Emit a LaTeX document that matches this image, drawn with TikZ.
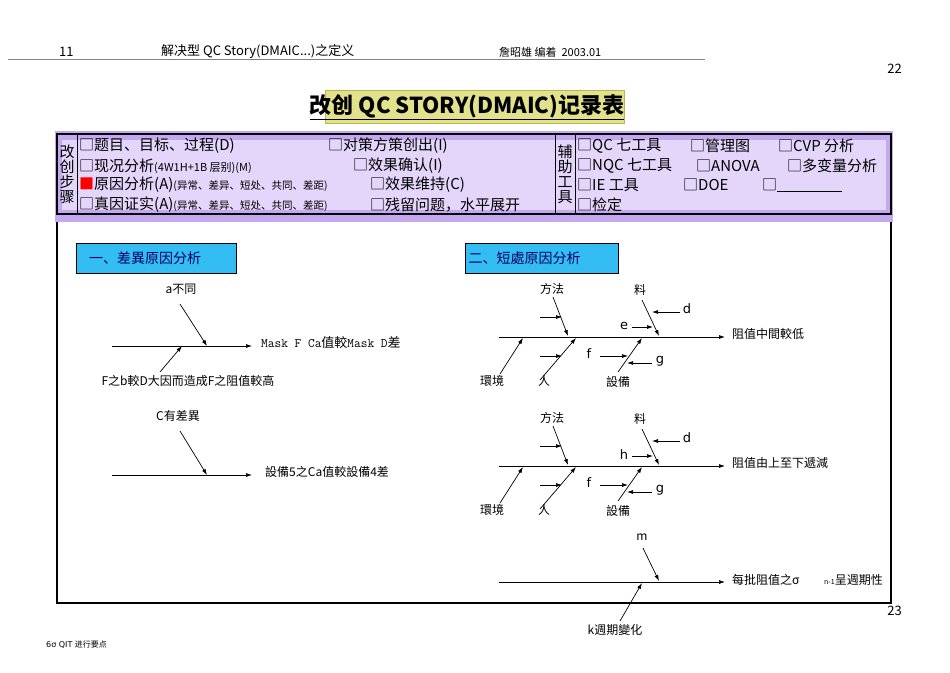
\documentclass[tikz,border=0pt]{standalone}
\usepackage{fontspec}
\setmainfont{DejaVu Sans}
\newfontfamily\cjk{Noto Sans CJK SC}
\usetikzlibrary{arrows.meta}
\definecolor{band}{RGB}{196,168,240}
\definecolor{bandin}{RGB}{228,214,250}
\definecolor{hl}{RGB}{226,226,140}
\begin{document}
\begin{tikzpicture}[x=1pt,y=-1pt,
  txt/.style={inner sep=0pt,anchor=west,font=\cjk\fontsize{15}{15}\selectfont},
  lbl/.style={inner sep=1pt,font=\cjk\fontsize{12}{12}\selectfont},
  arr/.style={-{Latex[length=6pt,width=4pt]},line width=0.7pt},
  cy/.style={draw=black,fill=cyan!80!white,minimum width=160pt,minimum height=30pt,anchor=north west,font=\cjk\fontsize{14}{14}\selectfont,text=blue!40!black,inner sep=0pt,text width=150pt,align=left}]
\useasboundingbox (0,0) rectangle (950,672);
\fill[white] (0,0) rectangle (950,672);
% header
\node[lbl,anchor=west] (h1) at (58,52) {\fontsize{13}{13}\selectfont 11};
\node[lbl,anchor=west] (h2) at (160,52) {\fontsize{13}{13}\selectfont 解决型 QC Story(DMAIC...)之定义};
\node[lbl,anchor=west] (h3) at (498,52) {\fontsize{11}{11}\selectfont 詹昭雄 编着 \ 2003.01};
\draw[gray,line width=0.8pt] (8,59) -- (705,59);
\node[lbl,anchor=east] (p22) at (903,69) {\fontsize{13}{13}\selectfont 22};
% title
\fill[hl,draw=olive!60] (325,90) rectangle (624,123);
\node[inner sep=0pt,font=\cjk\bfseries\fontsize{22}{22}\selectfont] (title) at (467,107) {\underline{改创 QC STORY(DMAIC)记录表}};
% table
\fill[band] (55,131) rectangle (893,222);
\fill[bandin] (62,140) rectangle (886,210);
\draw[line width=1.2pt] (57,134) rectangle (891,214);
\draw[line width=1pt] (77,134) -- (77,214) (555,134) -- (555,214) (575,134) -- (575,214);
\node[txt,anchor=center,align=center] (c1) at (67,174) {改\\创\\步\\骤};
\node[txt,anchor=center,align=center] (c2) at (565,174) {辅\\助\\工\\具};
\node[txt] (r1) at (79,146) {□题目、目标、过程(D)};
\node[txt] (r2) at (79,166) {□现况分析{\fontsize{11}{11}\selectfont (4W1H+1B 层别)(M)}};
\node[txt] (r3) at (79,185) {\textcolor{red}{■}原因分析(A){\fontsize{10.5}{11}\selectfont (异常、差异、短处、共同、差距)}};
\node[txt] (r4) at (79,205) {□真因证实(A){\fontsize{10.5}{11}\selectfont (异常、差异、短处、共同、差距)}};
\node[txt] (s1) at (328,146) {□对策方策创出(I)};
\node[txt] (s2) at (353,166) {□效果确认(I)};
\node[txt] (s3) at (370,185) {□效果维持(C)};
\node[txt] (s4) at (370,205) {□残留问题，水平展开};
\node[txt] (t1) at (577,146) {□QC 七工具};
\node[txt] (t2) at (577,166) {□NQC 七工具};
\node[txt] (t3) at (577,185) {□IE 工具};
\node[txt] (t4) at (577,205) {□检定};
\node[txt] (u1) at (690,146) {□管理图};
\node[txt] (u2) at (696,166) {□ANOVA};
\node[txt] (u3) at (683,185) {□DOE};
\node[txt] (v1) at (778,146) {□CVP 分析};
\node[txt] (v2) at (787,166) {□多变量分析};
\node[txt] (v3) at (762,185) {□\rule[-1pt]{65pt}{0.6pt}};
% frame
\draw[line width=1.2pt] (57,222) -- (57,603) -- (891,603) -- (891,222);
\node[cy] (b1) at (76,243) {\hspace*{8pt}一、差異原因分析};
\node[cy,minimum width=153pt] (b2) at (465,243) {\hspace*{2pt}二、短處原因分析};
% left diagram 1
\coordinate (L1s) at (112,346); \coordinate (L1e) at (252,346);
\draw[arr] (L1s) -- (L1e);
\node[lbl,anchor=west,font=\ttfamily\fontsize{13}{13}\selectfont] (L1t) at (260,343) {Mask F Ca{\cjk 值較}Mask D{\cjk 差}};
\node[lbl] (La) at (181,289) {a不同};
\coordinate (La1) at (180,304); \coordinate (La2) at (207,346);
\draw[arr] (La1) -- (La2);
\coordinate (Lb1) at (160,372); \coordinate (Lb2) at (182,346);
\draw[arr] (Lb1) -- (Lb2);
\node[lbl] (Lb) at (188,381) {F之b較D大因而造成F之阻值較高};
% left diagram 2
\coordinate (L2s) at (112,475); \coordinate (L2e) at (252,475);
\draw[arr] (L2s) -- (L2e);
\node[lbl,anchor=west] (L2t) at (264,472) {設備5之Ca值較設備4差};
\node[lbl] (Lc) at (178,416) {C有差異};
\coordinate (Lc1) at (180,431); \coordinate (Lc2) at (207,475);
\draw[arr] (Lc1) -- (Lc2);
% fishbones
\foreach \dy/\eff/\ee in {0/阻值中間較低/e,129/阻值由上至下遞減/h}{
  \begin{scope}[yshift=-\dy pt]
  \coordinate (m1) at (499,337); \coordinate (m2) at (725,337);
  \draw[arr] (m1) -- (m2);
  \node[lbl,anchor=west] (eff) at (731,334) {\eff};
  \node[lbl] (fa) at (552,289) {方法};
  \draw[arr] (553,297) -- (568,336);
  \draw[arr] (540,317) -- (562,317);
  \draw[arr] (540,356) -- (562,356);
  \draw[arr] (540,380) -- (576,338);
  \node[lbl] (ren) at (544,381) {人};
  \draw[arr] (500,374) -- (523,338);
  \node[lbl] (hj) at (492,381) {環境};
  \draw[arr] (618,372) -- (642,338);
  \node[lbl] (sb) at (618,382) {設備};
  \node[lbl,font=\fontsize{13}{13}\selectfont] (ff) at (589,354) {f};
  \draw[arr] (600,356) -- (628,356);
  \draw[arr] (652,363) -- (627,363);
  \node[lbl,font=\fontsize{13}{13}\selectfont] (gg) at (660,361) {g};
  \node[lbl] (liao) at (640,290) {料};
  \draw[arr] (642,300) -- (659,336);
  \draw[arr] (680,312) -- (652,312);
  \node[lbl,font=\fontsize{13}{13}\selectfont] (dd) at (687,309) {d};
  \node[lbl,font=\fontsize{13}{13}\selectfont] (ee) at (624,326) {\ee};
  \draw[arr] (632,327) -- (653,327);
  \end{scope}}
% bottom
\coordinate (n1) at (499,582); \coordinate (n2) at (725,582);
\draw[arr] (n1) -- (n2);
\node[lbl,anchor=west] (sig) at (731,580) {每批阻值之σ};
\node[lbl,anchor=west] (per) at (823,580) {{\fontsize{7}{7}\selectfont n-1}呈週期性};
\node[lbl] (mm) at (642,537) {m};
\draw[arr] (643,548) -- (659,581);
\draw[arr] (620,621) -- (642,583);
\node[lbl] (kk) at (615,630) {k週期變化};
\node[lbl,anchor=east] (p23) at (903,611) {\fontsize{13}{13}\selectfont 23};
\node[lbl,anchor=west,font=\fontsize{8}{8}\selectfont] (foot) at (45,645) {6σ QIT {\cjk 进行要点}};
\end{tikzpicture}
\end{document}
